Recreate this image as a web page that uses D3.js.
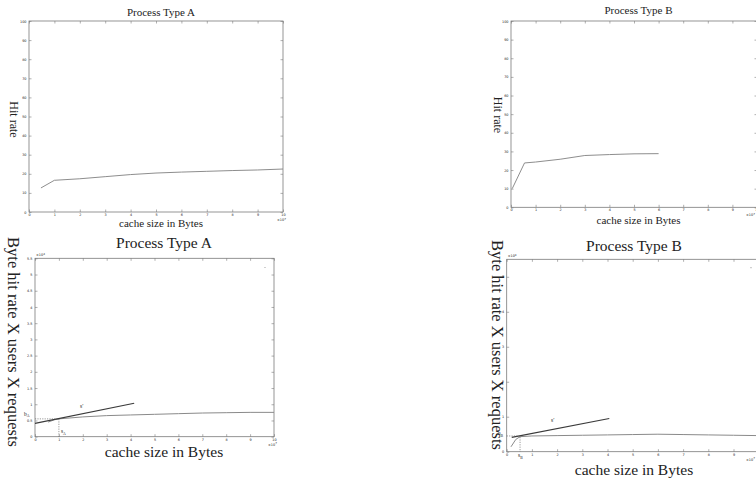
<!DOCTYPE html>
<html>
<head>
<meta charset="utf-8">
<script src="https://cdn.jsdelivr.net/npm/d3@7"></script>
<style>
  body { margin: 0; background: #fff; }
  svg { display: block; }
  text { font-family: "Liberation Serif", "DejaVu Serif", serif; fill: #222; }
</style>
</head>
<body>
<svg id="chart" width="756" height="480"></svg>
<script>
// ---------- data ----------
const xTicks = [0, 1, 2, 3, 4, 5, 6, 7, 8, 9, 10];
const hitTicks = [0, 10, 20, 30, 40, 50, 60, 70, 80, 90, 100];
const byteTicksA = [0, 0.5, 1, 1.5, 2, 2.5, 3, 3.5, 4, 4.5, 5, 5.5];
const byteTicksB = [0, 1, 2, 3, 4, 5];

const hitA_x = [0.47, 1, 2, 3, 4, 5, 6, 7, 8, 9, 10];
const hitA_y = [12.6, 16.6, 17.4, 18.5, 19.6, 20.4, 20.9, 21.3, 21.7, 22.0, 22.5];

const hitB_x = [0.05, 0.55, 1, 2, 3, 4, 5, 6];
const hitB_y = [10, 23.8, 24.3, 25.8, 27.8, 28.3, 28.7, 28.8];

const byteA_x = [0.55, 0.8, 1, 2, 3, 4, 5, 6, 7, 8, 9, 10];
const byteA_y = [0.45, 0.52, 0.55, 0.61, 0.65, 0.67, 0.69, 0.71, 0.73, 0.74, 0.75, 0.75];
const tanA_x = [0, 4.15];
const tanA_y = [0.41, 1.03];
const optA = [1, 0.55];   // s_A, b_A

const byteB_x = [0.17, 0.36, 0.53, 1, 2, 3, 4, 5, 6, 7, 8, 9, 10];
const byteB_y = [0.14, 0.35, 0.43, 0.45, 0.46, 0.47, 0.48, 0.49, 0.5, 0.49, 0.48, 0.47, 0.46];
const tanB_x = [0.2, 4.07];
const tanB_y = [0.41, 0.95];
const optB = [0.53, 0.45];

const svg = d3.select("#chart");
const frameColor = "#7a7a7a";

function panel(cfg) {
  const x = d3.scaleLinear().domain([0, 10]).range([cfg.l, cfg.r]);
  const y = d3.scaleLinear().domain([0, cfg.ymax]).range([cfg.b, cfg.t]);
  const g = svg.append("g");
  g.append("rect").attr("x", cfg.l).attr("y", cfg.t)
    .attr("width", cfg.r - cfg.l).attr("height", cfg.b - cfg.t)
    .attr("fill", "none").attr("stroke", frameColor).attr("stroke-width", 0.8);
  const styleAxis = (sel, labels) => {
    sel.select(".domain").remove();
    sel.selectAll(".tick line").attr("stroke", frameColor).attr("stroke-width", 0.6);
    sel.selectAll(".tick text").attr("font-size", cfg.tickFs).attr("fill", "#777")
      .style("font-family", "'DejaVu Sans', sans-serif");
    if (!labels) sel.selectAll(".tick text").remove();
  };
  g.append("g").attr("transform", `translate(0,${cfg.b})`)
    .call(d3.axisBottom(x).tickValues(xTicks).tickSize(-2.5).tickPadding(1.5).tickFormat(d3.format("d")))
    .call(s => styleAxis(s, true));
  g.append("g").attr("transform", `translate(0,${cfg.t})`)
    .call(d3.axisTop(x).tickValues(xTicks).tickSize(-2.5))
    .call(s => styleAxis(s, false));
  g.append("g").attr("transform", `translate(${cfg.l},0)`)
    .call(d3.axisLeft(y).tickValues(cfg.yTicks).tickSize(-2.5).tickPadding(2.5).tickFormat(d => String(d)))
    .call(s => styleAxis(s, true));
  g.append("g").attr("transform", `translate(${cfg.r},0)`)
    .call(d3.axisRight(y).tickValues(cfg.yTicks).tickSize(-2.5))
    .call(s => styleAxis(s, false));

  const exp = (px, py, e) => {
    const t = g.append("text").attr("x", px).attr("y", py).attr("font-size", cfg.tickFs)
      .attr("fill", "#777").style("font-family", "'DejaVu Sans', sans-serif");
    t.append("tspan").text("×10");
    t.append("tspan").attr("dy", -1.5).attr("font-size", cfg.tickFs * 0.8).text(e);
  };
  exp(Math.min(cfg.r - 6, 746), cfg.b + 9, "7");
  if (cfg.yexp) exp(cfg.l + 1, cfg.t - 2, "4");

  g.append("text").attr("x", cfg.cx).attr("y", cfg.titleY).attr("text-anchor", "middle")
    .attr("font-size", cfg.titleFs).text(cfg.title);
  g.append("text").attr("x", cfg.cx).attr("y", cfg.xlabY).attr("text-anchor", "middle")
    .attr("font-size", cfg.xlabFs).text("cache size in Bytes");
  g.append("text").attr("transform", `translate(${cfg.ylabX},${cfg.ylabCY}) rotate(90)`)
    .attr("text-anchor", "middle").attr("font-size", cfg.ylabFs).text(cfg.ylab);

  return { g, x, y };
}

const line = (x, y) => d3.line().x(d => x(d[0])).y(d => y(d[1]));
const zip = (a, b) => a.map((v, i) => [v, b[i]]);

// ---- Panel 1: top-left ----
const p1 = panel({ l: 29, r: 283, t: 21, b: 212, ymax: 100, yTicks: hitTicks, tickFs: 3.4,
  cx: 161, title: "Process Type A", titleY: 16, titleFs: 11,
  xlabY: 226.5, xlabFs: 11, ylab: "Hit rate", ylabX: 10, ylabCY: 119.5, ylabFs: 12 });
p1.g.append("path").datum(zip(hitA_x, hitA_y)).attr("d", line(p1.x, p1.y))
  .attr("fill", "none").attr("stroke", "#808080").attr("stroke-width", 0.9);

// ---- Panel 2: top-right ----
const p2 = panel({ l: 511, r: 757, t: 21, b: 207.3, ymax: 100, yTicks: hitTicks, tickFs: 3.4,
  cx: 638.5, title: "Process Type B", titleY: 14, titleFs: 11,
  xlabY: 224, xlabFs: 11, ylab: "Hit rate", ylabX: 494, ylabCY: 115, ylabFs: 12 });
p2.g.append("path").datum(zip(hitB_x, hitB_y)).attr("d", line(p2.x, p2.y))
  .attr("fill", "none").attr("stroke", "#808080").attr("stroke-width", 0.9);

// ---- bottom panels ----
function bytePanel(p, cx, cy, tx, ty, opt, labOffs) {
  const g = p.g;
  g.append("path").datum(zip(cx, cy)).attr("d", line(p.x, p.y))
    .attr("fill", "none").attr("stroke", "#8a8a8a").attr("stroke-width", 1);
  g.append("path").datum(zip(tx, ty)).attr("d", line(p.x, p.y))
    .attr("fill", "none").attr("stroke", "#3a3a3a").attr("stroke-width", 1.1);
  g.append("path").datum([[0, opt[1]], [opt[0], opt[1]], [opt[0], 0]]).attr("d", line(p.x, p.y))
    .attr("fill", "none").attr("stroke", "#555").attr("stroke-width", 0.6)
    .attr("stroke-dasharray", "1.2,1.2");
  const sub = (px, py, main, s) => {
    const t = g.append("text").attr("x", px).attr("y", py).attr("font-size", 5.5).attr("fill", "#444");
    t.append("tspan").text(main);
    t.append("tspan").attr("dy", 1.5).attr("font-size", 3.8).text(s);
  };
  sub(p.x(0) - labOffs.bdx, p.y(opt[1]) + labOffs.bdy, "b", labOffs.sub);
  sub(p.x(opt[0]) + labOffs.sdx, labOffs.sy, "s", labOffs.sub);
  g.append("text").attr("x", labOffs.spx).attr("y", labOffs.spy).attr("font-size", 5.5)
    .attr("fill", "#444").text("s′");
}

const p3 = panel({ l: 35, r: 274, t: 258.3, b: 436.7, ymax: 5.5, yTicks: byteTicksA, tickFs: 3.4, yexp: true,
  cx: 164, title: "Process Type A", titleY: 248, titleFs: 15.5,
  xlabY: 457, xlabFs: 15.5, ylab: "Byte hit rate X users X requests", ylabX: 7.5, ylabCY: 342, ylabFs: 16.5 });
bytePanel(p3, byteA_x, byteA_y, tanA_x, tanA_y, optA,
  { sub: "A", bdx: 11, bdy: -3, sdx: 2, sy: 433, spx: 80, spy: 408 });
p3.g.append("circle").attr("cx", 265).attr("cy", 267.5).attr("r", 0.6).attr("fill", "#999");

const p4 = panel({ l: 506.7, r: 758.7, t: 259.3, b: 451.7, ymax: 5.5, yTicks: byteTicksB, tickFs: 3.4, yexp: true,
  cx: 634, title: "Process Type B", titleY: 251, titleFs: 15.5,
  xlabY: 475, xlabFs: 15.5, ylab: "Byte hit rate X users X requests", ylabX: 491.5, ylabCY: 345, ylabFs: 16.5 });
bytePanel(p4, byteB_x, byteB_y, tanB_x, tanB_y, optB,
  { sub: "B", bdx: 9, bdy: -0.5, sdx: -2, sy: 457, spx: 551, spy: 422 });
p4.g.append("circle").attr("cx", 751).attr("cy", 267.7).attr("r", 0.6).attr("fill", "#999");
</script>
</body>
</html>
